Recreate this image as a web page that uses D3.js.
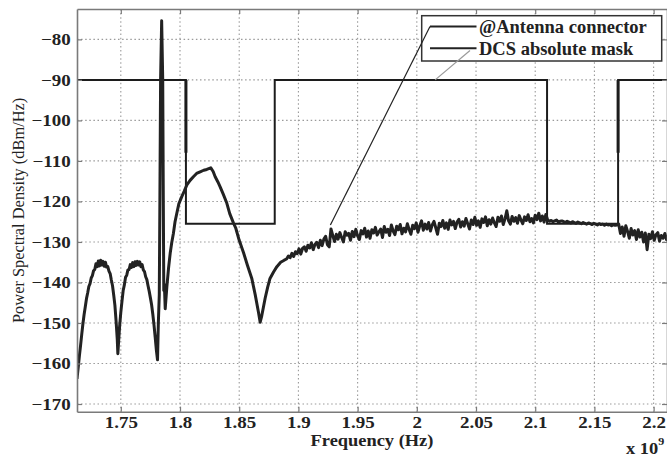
<!DOCTYPE html>
<html>
<head>
<meta charset="utf-8">
<script src="https://cdn.jsdelivr.net/npm/d3@7"></script>
<style>
  body { margin: 0; background: #fff; }
  svg { display: block; background: #fff; }
  svg text { font-family: "Liberation Serif", "Times New Roman", serif; }
</style>
</head>
<body>
<svg id="chart" width="667" height="457"></svg>
<script>
// Axis ticks (frequency in GHz, shown with an x 10^9 multiplier)
const xTicks = [1.75, 1.8, 1.85, 1.9, 1.95, 2, 2.05, 2.1, 2.15, 2.2];
const yTicks = [-170, -160, -150, -140, -130, -120, -110, -100, -90, -80];
const xLimits = [1.713, 2.2113];
const yLimits = [-171.9, -72.5];

// @Antenna connector trace: lobes, spike, hump and null [GHz, dBm/Hz]
const tracePoints = [
  [1.713, -163.8], [1.714, -161.0], [1.715, -158.2], [1.716, -155.6], [1.717, -152.8],
  [1.718, -150.2], [1.719, -147.9], [1.720, -146.0], [1.721, -144.0], [1.722, -142.6],
  [1.723, -141.0], [1.724, -140.3], [1.725, -138.9], [1.726, -138.3], [1.727, -137.1],
  [1.728, -136.8], [1.729, -135.4], [1.730, -136.1], [1.731, -134.7], [1.732, -135.9],
  [1.733, -134.5], [1.734, -135.7], [1.735, -134.8], [1.736, -136.0], [1.737, -135.0],
  [1.738, -136.2], [1.739, -136.1], [1.740, -137.2], [1.741, -137.8], [1.742, -139.4],
  [1.743, -140.8], [1.744, -143.1], [1.745, -145.6], [1.746, -149.5], [1.747, -154.0],
  [1.7475, -157.6], [1.748, -155.2], [1.749, -150.8], [1.750, -147.4], [1.751, -144.6],
  [1.752, -142.0], [1.753, -140.6], [1.754, -138.7], [1.755, -138.2], [1.756, -136.9],
  [1.757, -136.8], [1.758, -135.6], [1.759, -136.3], [1.760, -135.1], [1.761, -136.1],
  [1.762, -134.9], [1.763, -135.8], [1.764, -134.8], [1.765, -135.7], [1.766, -134.9],
  [1.767, -136.1], [1.768, -135.6], [1.769, -136.9], [1.770, -137.3], [1.771, -138.6],
  [1.772, -139.3], [1.773, -140.8], [1.774, -142.2], [1.775, -143.8], [1.776, -145.5],
  [1.777, -147.8], [1.778, -150.4], [1.779, -153.4], [1.780, -156.6], [1.781, -159.1],
  [1.7817, -150.0], [1.7825, -143.0], [1.7830, -120.0], [1.7836, -90.0], [1.7845, -75.4],
  [1.7854, -90.0], [1.7859, -120.0], [1.7863, -142.0], [1.7868, -140.5], [1.7875, -146.5],
  [1.7889, -141.0], [1.7903, -136.5], [1.7917, -132.8], [1.7930, -130.2], [1.7944, -127.9],
  [1.7958, -125.0], [1.7973, -122.9], [1.7990, -120.6], [1.8015, -118.8], [1.8035, -117.5],
  [1.8058, -115.9], [1.8085, -114.8], [1.8113, -113.9], [1.8140, -113.1], [1.8170, -112.7],
  [1.8200, -112.3], [1.8226, -112.1], [1.8260, -111.7], [1.8280, -112.6], [1.8297, -113.9],
  [1.8320, -115.2], [1.8339, -116.4], [1.8365, -118.2], [1.8395, -120.4], [1.8420, -123.0],
  [1.8451, -125.3], [1.8470, -126.5], [1.8500, -129.6], [1.8536, -132.6], [1.8570, -135.8],
  [1.8607, -139.1], [1.8635, -143.0], [1.8663, -147.4], [1.8677, -149.8], [1.8690, -148.3],
  [1.8719, -143.9], [1.8740, -141.2], [1.8760, -139.0], [1.8790, -137.4], [1.8818, -136.1],
  [1.8850, -135.0], [1.8880, -134.5]
];

// Noisy part of the trace, sampled every 1.5 MHz from 1.890 GHz
const noiseStart = 1.890;
const noiseStep = 0.0015;
const noiseLevels = [
  -134.2, -133.5, -133.9, -132.8, -133.6, -132.4, -132.9, -131.7, -133.0, -131.6,
  -131.2, -132.3, -130.8, -131.5, -130.2, -131.9, -130.6, -130.1, -131.4, -129.6,
  -130.9, -129.3, -128.6, -130.7, -131.2, -126.8, -128.4, -129.9, -128.1, -129.3,
  -127.7, -128.9, -130.0, -127.5, -128.3, -127.9, -129.6, -127.4, -128.7, -126.9,
  -128.5, -129.4, -127.2, -128.0, -126.6, -128.8, -127.3, -129.1, -127.0, -127.8,
  -126.4, -128.3, -127.5, -126.8, -128.9, -126.2, -127.6, -126.9, -128.4, -125.8,
  -127.3, -128.2, -126.1, -127.0, -125.7, -128.0, -126.6, -127.5, -125.5, -126.9,
  -128.1, -125.9, -126.7, -125.3, -127.6, -126.0, -124.8, -127.1, -125.6, -126.8,
  -125.2, -127.3, -125.8, -124.9, -126.5, -128.1, -125.4, -126.2, -124.7, -126.6,
  -125.3, -126.9, -124.6, -125.8, -124.9, -126.7, -125.1, -124.4, -126.3, -125.0,
  -126.1, -124.2, -125.5, -126.8, -124.6, -125.7, -123.9, -125.9, -124.8, -126.4,
  -124.3, -125.2, -123.8, -126.0, -124.5, -125.6, -124.1, -125.3, -126.2, -123.9,
  -124.9, -123.6, -125.7, -124.3, -122.3, -124.8, -125.6, -123.7, -124.9, -124.0,
  -125.4, -123.5, -124.6, -125.5, -123.8, -124.7, -123.3, -125.0, -124.2, -125.3,
  -123.4, -124.5, -122.9, -124.8, -123.6, -125.1, -123.2, -124.6,
  // 2.112 .. 2.169, riding on the mask floor
  -124.9, -124.7, -125.0, -124.8, -124.6, -125.1, -124.9, -124.8, -125.0, -125.2,
  -124.9, -125.1, -125.3, -125.0, -125.2, -125.4, -125.1, -125.3, -125.5, -125.2,
  -125.4, -125.6, -125.3, -125.5, -125.7, -125.4, -125.6, -125.8, -125.5, -125.7,
  -125.6, -125.9, -125.6, -125.8, -125.7, -126.0, -125.7, -125.9, -125.8,
  // 2.1705 .. 2.2125
  -125.6, -127.9, -126.3, -128.6, -126.0, -127.4, -129.1, -126.7, -128.3, -127.2,
  -129.4, -127.0, -128.8, -127.6, -130.0, -127.8, -131.9, -128.1, -129.2, -127.5,
  -129.6, -128.2, -127.7, -129.8, -128.4, -129.1, -127.9, -129.5, -128.6
];

// DCS absolute mask (step outline)
const maskFreq = [1.713, 1.805, 1.805, 1.88, 1.88, 2.11, 2.11, 2.17, 2.17, 2.2113];
const maskLevel = [-90, -90, -125.5, -125.5, -90, -90, -125.5, -125.5, -90, -90];
// short heavier stretches on two of the mask edges
const maskEdgeFreq = [1.805, 2.17];
const maskEdgeTop = [-90, -90];
const maskEdgeBottom = [-108, -108];

const legendLabels = ['@Antenna connector', 'DCS absolute mask'];
// where the legend pointer lines land on the plot [GHz, dBm/Hz]
const pointerTargets = [[1.927, -125.8], [2.0155, -90]];

const svg = d3.select('#chart');
const plot = { left: 77, top: 9, right: 667, bottom: 411.7 };
const serif = '"Liberation Serif", "Times New Roman", serif';

const x = d3.scaleLinear().domain(xLimits).range([plot.left, plot.right]);
const y = d3.scaleLinear().domain(yLimits).range([plot.bottom, plot.top]);

const trace = tracePoints.concat(noiseLevels.map((v, i) => [noiseStart + i * noiseStep, v]));
const mask = maskFreq.map((f, i) => [f, maskLevel[i]]);

svg.append('defs').append('clipPath').attr('id', 'clip')
  .append('rect')
  .attr('x', plot.left).attr('y', plot.top)
  .attr('width', plot.right - plot.left).attr('height', plot.bottom - plot.top);

// Dotted grid
const grid = svg.append('g').attr('stroke', '#9a9a9a').attr('stroke-width', 1.1)
  .attr('stroke-dasharray', '1.5,2.6');
grid.selectAll('.gx').data(xTicks).enter().append('line')
  .attr('x1', d => x(d)).attr('x2', d => x(d))
  .attr('y1', plot.top).attr('y2', plot.bottom);
grid.selectAll('.gy').data(yTicks).enter().append('line')
  .attr('x1', plot.left).attr('x2', plot.right)
  .attr('y1', d => y(d)).attr('y2', d => y(d));

const line = d3.line().x(d => x(d[0])).y(d => y(d[1]));
const plotArea = svg.append('g').attr('clip-path', 'url(#clip)');

plotArea.append('path')
  .datum(mask)
  .attr('d', line)
  .attr('fill', 'none')
  .attr('stroke', '#1c1c1c')
  .attr('stroke-width', 2);

plotArea.selectAll('.edge').data(maskEdgeFreq).enter().append('line')
  .attr('x1', d => x(d)).attr('x2', d => x(d))
  .attr('y1', (d, i) => y(maskEdgeTop[i])).attr('y2', (d, i) => y(maskEdgeBottom[i]))
  .attr('stroke', '#1c1c1c')
  .attr('stroke-width', 3);

plotArea.append('path')
  .datum(trace)
  .attr('d', line)
  .attr('fill', 'none')
  .attr('stroke', '#222')
  .attr('stroke-width', 3)
  .attr('stroke-linejoin', 'round');

// Axes box with inward ticks
const frame = '#7a7a7a';
const sx = 1.15;

const xAxis = svg.append('g')
  .attr('transform', `translate(0,${plot.bottom})`)
  .call(d3.axisBottom(x).tickValues(xTicks).tickSizeInner(-5).tickSizeOuter(0).tickPadding(5)
    .tickFormat(d3.format('')));
const yAxis = svg.append('g')
  .attr('transform', `translate(${plot.left},0)`)
  .call(d3.axisLeft(y).tickValues(yTicks).tickSizeInner(-5).tickSizeOuter(0).tickPadding(6));
svg.append('g')
  .attr('transform', `translate(0,${plot.top})`)
  .call(d3.axisTop(x).tickValues(xTicks).tickSizeInner(-5).tickSizeOuter(0).tickFormat(''));
svg.append('g')
  .attr('transform', `translate(${plot.right},0)`)
  .call(d3.axisRight(y).tickValues(yTicks).tickSizeInner(-5).tickSizeOuter(0).tickFormat(''));

svg.selectAll('.domain').attr('stroke', frame).attr('stroke-width', 1.6);
svg.selectAll('.tick line').attr('stroke', frame).attr('stroke-width', 1.2);

[xAxis, yAxis].forEach(a => {
  a.attr('font-family', serif).attr('font-size', 16.5).attr('font-weight', 'bold');
  a.selectAll('text').attr('fill', '#222');
});
xAxis.selectAll('text').attr('transform', `scale(${sx},1)`);
yAxis.selectAll('text').attr('x', -6.3 / sx).attr('transform', `scale(${sx},1)`);

// Axis titles
svg.append('text')
  .attr('transform', `translate(${(plot.left + plot.right) / 2},446) scale(${sx},1)`)
  .attr('text-anchor', 'middle')
  .attr('fill', '#222')
  .style('font-size', '16px')
  .style('font-weight', 'bold')
  .text('Frequency (Hz)');

svg.append('text')
  .attr('transform', `translate(24,${(plot.top + plot.bottom) / 2}) rotate(-90)`)
  .attr('text-anchor', 'middle')
  .attr('fill', '#222')
  .style('font-size', '16.4px')
  .text('Power Spectral Density  (dBm/Hz)');

const mult = svg.append('text')
  .attr('transform', `translate(626,454) scale(${sx},1)`)
  .attr('fill', '#222')
  .style('font-size', '16px')
  .style('font-weight', 'bold');
mult.append('tspan').text('x 10');
mult.append('tspan').attr('dy', -9).style('font-size', '10.5px').text('9');

// Legend
const legend = svg.append('g');
legend.append('rect')
  .attr('x', 421.7).attr('y', 15.7).attr('width', 240).attr('height', 45.3)
  .attr('fill', '#fff').attr('stroke', '#333').attr('stroke-width', 1.5);
const rowY = [26.5, 48.3];
legend.selectAll('.sample').data(legendLabels).enter().append('line')
  .attr('x1', 430).attr('x2', 476.5)
  .attr('y1', (d, i) => rowY[i]).attr('y2', (d, i) => rowY[i])
  .attr('stroke', '#222').attr('stroke-width', 2);
legend.selectAll('.label').data(legendLabels).enter().append('text')
  .attr('x', 479).attr('y', (d, i) => rowY[i] + 6.5)
  .attr('fill', '#222')
  .style('font-size', '18.5px')
  .style('font-weight', 'bold')
  .text(d => d);

// Pointer lines from legend to curves
const pointerStart = [[430, rowY[0]], [470, 50.5]];
const pointerColor = ['#222', '#9a9a9a'];
svg.selectAll('.pointer').data(pointerTargets).enter().append('line')
  .attr('x1', (d, i) => pointerStart[i][0]).attr('y1', (d, i) => pointerStart[i][1])
  .attr('x2', d => x(d[0])).attr('y2', d => y(d[1]))
  .attr('stroke', (d, i) => pointerColor[i])
  .attr('stroke-width', 1.2);
</script>
</body>
</html>
